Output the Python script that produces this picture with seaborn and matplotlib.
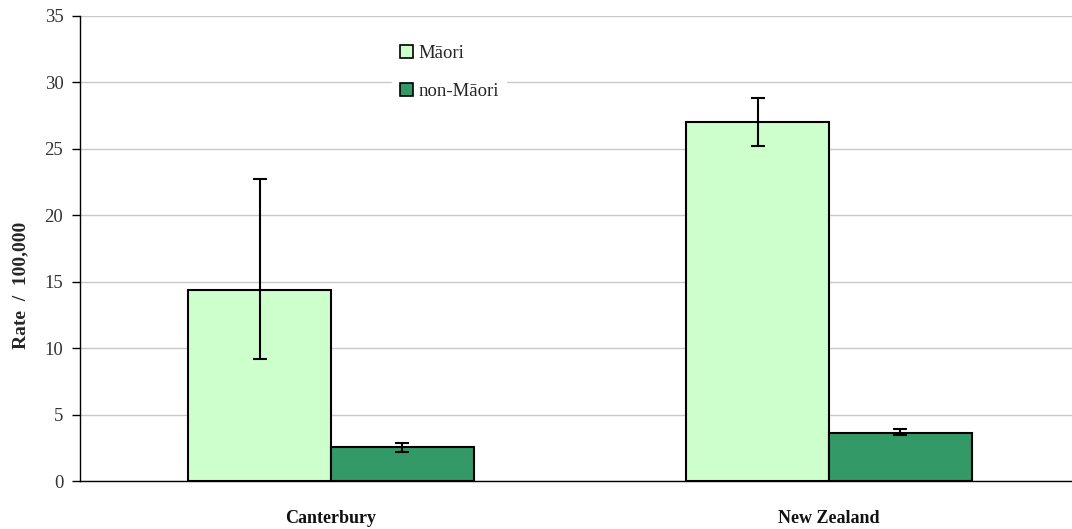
import matplotlib
matplotlib.use("Agg")
import matplotlib.pyplot as plt
import seaborn as sns
import pandas as pd
import numpy as np

# Rates per 100,000 with confidence intervals
regions = ["Canterbury", "New Zealand"]
groups = ["Māori", "non-Māori"]
maori_rate = [14.4, 27.0]
maori_low = [9.2, 25.25]
maori_high = [22.7, 28.85]
nonmaori_rate = [2.57, 3.6]
nonmaori_low = [2.15, 3.44]
nonmaori_high = [2.87, 3.88]

df = pd.DataFrame({
    "region": regions * 2,
    "group": [groups[0]] * 2 + [groups[1]] * 2,
    "rate": maori_rate + nonmaori_rate,
})
lows = [maori_low, nonmaori_low]
highs = [maori_high, nonmaori_high]
rates = [maori_rate, nonmaori_rate]

sns.set_theme(style="white")
plt.rcParams["font.family"] = ["Liberation Serif", "DejaVu Serif"]

fig = plt.figure(figsize=(10.72, 5.29), dpi=100)
ax = fig.add_axes([80 / 1072, 48 / 529, 996 / 1072, 465 / 529])

palette = {"Māori": "#CCFFCC", "non-Māori": "#339966"}
sns.barplot(data=df, x="region", y="rate", hue="group", order=regions,
            hue_order=groups, palette=palette, width=0.574, saturation=1,
            edgecolor="black", linewidth=1.5, errorbar=None, ax=ax, zorder=2)

# Confidence interval whiskers on each bar
for cont, r, lo, hi in zip(ax.containers, rates, lows, highs):
    xs = [b.get_x() + b.get_width() / 2 for b in cont]
    r = np.array(r)
    yerr = np.vstack([r - np.array(lo), np.array(hi) - r])
    ax.errorbar(xs, r, yerr=yerr, fmt="none", ecolor="black",
                elinewidth=1.5, capsize=5.2, capthick=1.5, zorder=3)

ax.set_ylim(0, 35)
ax.set_yticks(range(0, 36, 5))
ax.set_xlim(-0.504, 1.496)
ax.yaxis.grid(True, color="#C8C8C8", linewidth=1)
ax.set_axisbelow(True)
for s in ["top", "right"]:
    ax.spines[s].set_visible(False)
for s in ["left", "bottom"]:
    ax.spines[s].set_color("black")
    ax.spines[s].set_linewidth(1)

ax.set_xticks([0, 1])
ax.set_xticklabels(regions, fontsize=13, fontweight="bold")
ax.set_xticks([0.5], minor=True)
ax.tick_params(axis="x", which="major", length=0, pad=21)
ax.tick_params(axis="x", which="minor", length=6, width=1, color="black", direction="out")
ax.tick_params(axis="y", length=6, width=1, color="black", direction="out",
               left=True, labelsize=13.5, pad=6, labelcolor="#333333")
ax.tick_params(axis="x", labelcolor="#111111")
ax.set_xlabel("")
ax.set_ylabel("Rate  /  100,000", fontsize=14, fontweight="bold")
ax.yaxis.set_label_coords(-0.051, 0.42)

leg = ax.legend(loc="upper left", bbox_to_anchor=(0.304, 0.975), frameon=True,
                fontsize=13.5, handlelength=0.7, handleheight=0.7,
                handletextpad=0.3, labelspacing=1.15, borderpad=0.4)
leg.get_frame().set_facecolor("white")
leg.get_frame().set_edgecolor("white")
leg.get_frame().set_alpha(1)
for h in leg.legend_handles:
    h.set_edgecolor("black")
    h.set_linewidth(1.2)

fig.savefig("out.png", dpi=100)
